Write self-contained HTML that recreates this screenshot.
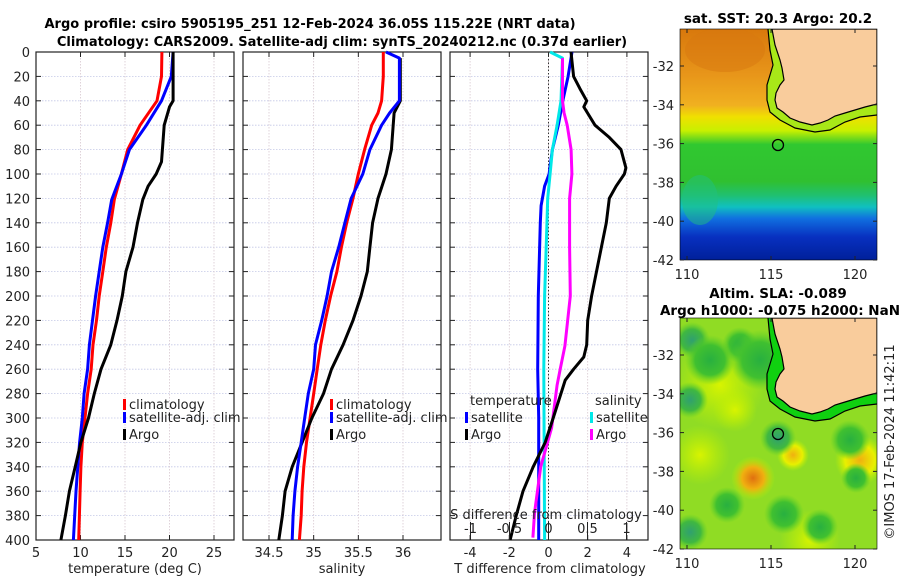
<!DOCTYPE html>
<html><head><meta charset="utf-8"><style>
body{margin:0;background:#fff;}
svg{display:block;font-family:"DejaVu Sans","Liberation Sans",sans-serif;}
</style></head><body>
<svg id="c" width="900" height="580" viewBox="0 0 900 580" xmlns="http://www.w3.org/2000/svg">
<defs>
<linearGradient id="sstg" x1="0" y1="0" x2="0" y2="1">
<stop offset="0" stop-color="#d8780c"/><stop offset="0.2" stop-color="#e8961a"/><stop offset="0.33" stop-color="#f0b020"/>
<stop offset="0.38" stop-color="#f0e000"/><stop offset="0.44" stop-color="#c8f000"/><stop offset="0.5" stop-color="#30c830"/>
<stop offset="0.66" stop-color="#30c030"/><stop offset="0.72" stop-color="#20c070"/><stop offset="0.77" stop-color="#10c0c0"/>
<stop offset="0.82" stop-color="#1070e0"/><stop offset="0.9" stop-color="#0830c0"/><stop offset="1" stop-color="#00209a"/>
</linearGradient>
<radialGradient id="bOr"><stop offset="0" stop-color="#e07010"/><stop offset="0.5" stop-color="#f0b010"/><stop offset="1" stop-color="#c0f000" stop-opacity="0"/></radialGradient>
<radialGradient id="bYe"><stop offset="0" stop-color="#f0b010"/><stop offset="0.6" stop-color="#e8f000"/><stop offset="1" stop-color="#c0f000" stop-opacity="0"/></radialGradient>
<radialGradient id="bLy"><stop offset="0" stop-color="#d8f400"/><stop offset="1" stop-color="#c0f000" stop-opacity="0"/></radialGradient>
<radialGradient id="bDg"><stop offset="0" stop-color="#28b040"/><stop offset="0.6" stop-color="#40c030"/><stop offset="1" stop-color="#60d028" stop-opacity="0"/></radialGradient>
<radialGradient id="bTe"><stop offset="0" stop-color="#30a070"/><stop offset="0.6" stop-color="#40b840"/><stop offset="1" stop-color="#60d028" stop-opacity="0"/></radialGradient>
<clipPath id="clipA"><rect x="680" y="29" width="197" height="231"/></clipPath>
<clipPath id="clipB"><rect x="680" y="318" width="197" height="231"/></clipPath>
</defs>
<g id="g"></g>
</svg>
<script>
// ---- temperature profiles (depth m, deg C)
const tClimDepth=[0,20,40,60,80,100,121,140,160,180,200,220,240,260,280,300,320,340,360,400];
const tClimVal=[19.15,19.1,18.6,16.7,15.3,14.6,13.8,13.4,12.9,12.5,12.1,11.8,11.4,11.2,10.8,10.5,10.2,10.05,9.95,9.8];
const tSatDepth=[0,20,40,60,80,100,121,140,160,180,200,240,260,280,300,320,340,360,400];
const tSatVal=[20.4,20.2,19.1,17.4,15.5,14.6,13.5,13.05,12.5,12.1,11.7,11.0,10.8,10.4,10.2,9.9,9.7,9.5,9.2];
const tArgoDepth=[0,40,45,60,90,100,110,121,140,160,180,200,220,240,260,280,300,320,340,360,380,400];
const tArgoVal=[20.4,20.4,20.0,19.4,19.1,18.5,17.6,17.0,16.4,15.9,15.1,14.7,14.1,13.4,12.3,11.55,10.9,10.05,9.4,8.75,8.3,7.8];
// ---- salinity profiles
const sClimDepth=[0,20,40,50,60,80,100,120,140,160,180,200,220,240,260,280,300,320,340,360,380,400];
const sClimVal=[35.78,35.78,35.76,35.72,35.65,35.57,35.5,35.44,35.37,35.31,35.26,35.19,35.13,35.08,35.04,35.0,34.96,34.92,34.89,34.87,34.86,34.84];
const sSatDepth=[0,5,40,50,60,80,100,120,140,160,180,200,220,240,260,280,300,320,340,360,380,400];
const sSatVal=[35.81,35.96,35.96,35.85,35.76,35.63,35.55,35.42,35.35,35.28,35.2,35.15,35.09,35.02,35.0,34.94,34.9,34.86,34.82,34.79,34.77,34.76];
const sArgoDepth=[5,40,50,60,80,100,120,140,160,180,200,220,240,260,280,300,320,340,360,380,400];
const sArgoVal=[35.97,35.97,35.9,35.89,35.87,35.81,35.72,35.66,35.63,35.6,35.53,35.44,35.33,35.2,35.11,34.98,34.87,34.76,34.68,34.65,34.61];
// ---- differences from climatology
const dTSatDepth=[0,20,40,60,80,100,110,126,140,200,260,300,400];
const dTSatVal=[1.2,1.0,0.73,0.5,0.2,0.03,-0.2,-0.38,-0.42,-0.52,-0.55,-0.5,-0.5];
const dTArgoDepth=[0,20,30,40,45,60,70,80,95,100,110,120,140,160,180,200,220,240,250,260,269,300,320,340,360,380,400];
const dTArgoVal=[1.15,1.28,1.6,1.95,1.8,2.37,3.1,3.7,3.95,3.87,3.45,3.1,2.95,2.7,2.45,2.2,2.0,1.95,1.8,1.28,0.85,0.24,-0.17,-0.78,-1.3,-1.65,-1.96];
const dSSatDepth=[0,5,40,60,80,100,120,160,200,260,400];
const dSSatVal=[0.02,0.18,0.16,0.11,0.05,0.02,-0.01,-0.03,-0.05,-0.06,-0.05];
const dSArgoDepth=[5,40,50,60,80,100,120,160,200,241,260,273,308,340,378,398];
const dSArgoVal=[0.18,0.18,0.2,0.24,0.29,0.3,0.27,0.27,0.28,0.21,0.15,0.11,0.04,-0.1,-0.18,-0.2];
// ---- ticks
const depthTicks=[0,20,40,60,80,100,120,140,160,180,200,220,240,260,280,300,320,340,360,380,400];
const tTicks=[5,10,15,20,25];
const sTicks=[34.5,35,35.5,36];
const dTTicks=[-4,-2,0,2,4];
const dSTicks=[-1,-0.5,0,0.5,1];
const latTicks=[-32,-34,-36,-38,-40,-42];
const lonTicks=[110,115,120];

const NS='http://www.w3.org/2000/svg';
const G=document.getElementById('g');
function el(tag,attrs,parent){const e=document.createElementNS(NS,tag);for(const k in attrs)e.setAttribute(k,attrs[k]);(parent||G).appendChild(e);return e;}
function txt(x,y,s,attrs,parent){const e=el('text',Object.assign({x:x,y:y,'font-size':13,fill:'#222'},attrs||{}),parent);e.textContent=s;return e;}

const Y0=52,Y1=540;
const yD=d=>Y0+d*(Y1-Y0)/400;
const xT=v=>36+(v-5)*(214-36)/20;
const xS=v=>269+(v-34.5)*(403-269)/1.5;
const xDT=v=>548.5+v*19.6;
const xDS=v=>548.5+v*78;

function panel(x0,x1,xs,ticks,labels,name){
  const gp=el('g',{});
  
  
  for(const d of depthTicks){
    const y=yD(d);
    el('line',{x1:x0,x2:x1,y1:y,y2:y,stroke:'#c4c8e6','stroke-width':0.8,'stroke-dasharray':'1.5,1.5'},gp);
    el('line',{x1:x0,x2:x0+5,y1:y,y2:y,stroke:'#222'},gp);
    el('line',{x1:x1-5,x2:x1,y1:y,y2:y,stroke:'#222'},gp);
  }
  for(const t of ticks){
    const x=xs(t);
    el('line',{x1:x,x2:x,y1:Y0,y2:Y1,stroke:'#d8c8d0','stroke-width':0.8,'stroke-dasharray':'1.5,1.5'},gp);
    el('line',{x1:x,x2:x,y1:Y1-5,y2:Y1,stroke:'#222'},gp);
    el('line',{x1:x,x2:x,y1:Y0,y2:Y0+5,stroke:'#222'},gp);
    if(labels){const l=txt(x,557,String(t),{'text-anchor':'middle'},gp);}
  }
  el('rect',{x:x0,y:Y0,width:x1-x0,height:Y1-Y0,fill:'none',stroke:'#222','stroke-width':1.2},gp);
  return gp;
}
function series(depth,vals,xs,color,name){
  const pts=depth.map((d,i)=>xs(vals[i]).toFixed(1)+','+yD(d).toFixed(1)).join(' ');
  const p=el('polyline',{points:pts,fill:'none',stroke:color,'stroke-width':3,'stroke-linejoin':'round'});
  
  
}
function legend(x,y,color,label,name){
  const r=el('rect',{x:x,y:y-10,width:3,height:11,fill:color});
  
  
  const t=txt(x+6,y,label);
  
  
}

// panel 1
panel(36,234,xT,tTicks,true,'temperature-panel');
for(const d of depthTicks){const l=txt(30,yD(d)+5,String(d),{'text-anchor':'end'});}
series(tClimDepth,tClimVal,xT,'#ff0000','temp-climatology-line');
series(tSatDepth,tSatVal,xT,'#0000ff','temp-satellite-line');
series(tArgoDepth,tArgoVal,xT,'#000000','temp-argo-line');
legend(123,409,'#ff0000','climatology','legend-climatology');
legend(123,422,'#0000ff','satellite-adj. clim','legend-satellite');
legend(123,439,'#000','Argo','legend-argo');
let a=txt(135,573,'temperature (deg C)',{'text-anchor':'middle'});

// panel 2
panel(243,441,xS,sTicks,true,'salinity-panel');
series(sClimDepth,sClimVal,xS,'#ff0000','sal-climatology-line');
series(sArgoDepth,sArgoVal,xS,'#000000','sal-argo-line');
series(sSatDepth,sSatVal,xS,'#0000ff','sal-satellite-line');
legend(330,409,'#ff0000','climatology','legend-climatology-2');
legend(330,422,'#0000ff','satellite-adj. clim','legend-satellite-2');
legend(330,439,'#000','Argo','legend-argo-2');
a=txt(342,573,'salinity',{'text-anchor':'middle'});

// panel 3
panel(450,648,xDT,dTTicks,true,'difference-panel');
const zl=el('line',{x1:xDT(0),x2:xDT(0),y1:Y0,y2:Y1,stroke:'#333','stroke-width':1,'stroke-dasharray':'1.5,2'});

series(dTSatDepth,dTSatVal,xDT,'#0000ff','dT-satellite-line');
series(dSSatDepth,dSSatVal,xDS,'#00e8e8','dS-satellite-line');
series(dSArgoDepth,dSArgoVal,xDS,'#ff00ff','dS-argo-line');
series(dTArgoDepth,dTArgoVal,xDT,'#000000','dT-argo-line');
a=txt(470,405,'temperature');
a=txt(595,405,'salinity');
legend(465,422,'#0000ff','satellite','legend-t-satellite');
legend(465,439,'#000','Argo','legend-t-argo');
legend(590,422,'#00e8e8','satellite','legend-s-satellite');
legend(590,439,'#ff00ff','Argo','legend-s-argo');
a=txt(546,519,'S difference from climatology',{'text-anchor':'middle'});
for(const t of dSTicks){
  const x=xDS(t);
  el('line',{x1:x,x2:x,y1:522,y2:540,stroke:'#222'});
  const l=txt(x,533,String(t),{'text-anchor':'middle'});
}
a=txt(550,573,'T difference from climatology',{'text-anchor':'middle'});

// titles
a=txt(310,28,'Argo profile: csiro 5905195_251 12-Feb-2024 36.05S 115.22E (NRT data)',{'text-anchor':'middle','font-weight':'bold','font-size':13,fill:'#000'});
a=txt(342,46,'Climatology: CARS2009. Satellite-adj clim: synTS_20240212.nc (0.37d earlier)',{'text-anchor':'middle','font-weight':'bold','font-size':13,fill:'#000'});

// maps
const lat2y=(lat,top)=>top+37+(-32-lat)*19.4;
const lon2x=lon=>687+(lon-110)*16.8;
const landPts=[[772,0],[775,16],[780,31],[782,39],[784,51],[780,56],[776,64],[775,71],[777,79],[783,83],[790,89],[800,93],[812,96],[820,94],[828,91],[835,87],[845,84],[855,81],[865,78],[877,75],[877,0]];
const shelfPts=[[768,0],[770,21],[773,36],[770,46],[767,56],[767,71],[770,83],[780,91],[795,99],[815,103],[830,101],[845,93],[860,88],[877,86]];
function mapFrame(top,clip,name,fillFn,shelfColor){
  const gm=el('g',{'clip-path':'url(#'+clip+')'});
  
  
  fillFn(gm);
  el('polygon',{points:shelfPts.map(p=>p[0]+','+(p[1]+top)).concat(['877,'+top]).join(' '),fill:shelfColor,stroke:'none'},gm);
  el('polygon',{points:landPts.map(p=>p[0]+','+(p[1]+top)).join(' '),fill:'#f9cc9c',stroke:'#000','stroke-width':1.2},gm);
  el('polyline',{points:shelfPts.map(p=>p[0]+','+(p[1]+top)).join(' '),fill:'none',stroke:'#000','stroke-width':1.2},gm);
  const c=el('circle',{cx:778,cy:top+116,r:5.5,fill:'none',stroke:'#000','stroke-width':1.3},gm);
  
  el('rect',{x:680,y:top,width:197,height:231,fill:'none',stroke:'#000','stroke-width':0.6});
  for(const lt of latTicks){
    const y=lat2y(lt,top);
    el('line',{x1:680,x2:684,y1:y,y2:y,stroke:'#222'});
    el('line',{x1:873,x2:877,y1:y,y2:y,stroke:'#222'});
    const l=txt(674,y+5,String(lt),{'text-anchor':'end'});
  }
  for(const ln of lonTicks){
    const x=lon2x(ln);
    el('line',{x1:x,x2:x,y1:top+227,y2:top+231,stroke:'#222'});
    el('line',{x1:x,x2:x,y1:top,y2:top+4,stroke:'#222'});
    const l=txt(x,top+250,String(ln),{'text-anchor':'middle'});
  }
}
mapFrame(29,'clipA','sst-map',g=>{
  el('rect',{x:680,y:29,width:197,height:231,fill:'url(#sstg)'},g);
  el('ellipse',{cx:725,cy:50,rx:40,ry:22,fill:'#d87810',opacity:0.5},g);
  el('ellipse',{cx:700,cy:200,rx:18,ry:25,fill:'#20c080',opacity:0.5},g);
},'#a8e818');
mapFrame(318,'clipB','sla-map',g=>{
  el('rect',{x:680,y:318,width:197,height:231,fill:'#90dc24'},g);
  const blobs=[[720,385,45,'bLy'],[700,455,30,'bLy'],[860,460,25,'bYe'],[753,478,22,'bOr'],[793,455,16,'bYe'],[735,410,22,'bLy'],[810,540,30,'bLy'],
    [692,340,18,'bTe'],[740,345,18,'bDg'],[690,400,18,'bTe'],[690,532,18,'bTe'],[727,505,18,'bDg'],[784,514,20,'bDg'],[820,527,18,'bDg'],
    [856,478,15,'bDg'],[850,440,20,'bDg'],[760,360,30,'bDg'],[778,438,18,'bTe'],[710,360,25,'bDg']];
  for(const b of blobs)el('circle',{cx:b[0],cy:b[1],r:b[2],fill:'url(#'+b[3]+')'},g);
},'#10d010');
a=txt(778,23,'sat. SST: 20.3 Argo: 20.2',{'text-anchor':'middle','font-weight':'bold','font-size':13.5,fill:'#000'});
a=txt(778,298,'Altim. SLA: -0.089',{'text-anchor':'middle','font-weight':'bold','font-size':13.5,fill:'#000'});
a=txt(780,315,'Argo h1000: -0.075 h2000: NaN',{'text-anchor':'middle','font-weight':'bold','font-size':13.5,fill:'#000'});
a=txt(0,0,'©IMOS 17-Feb-2024 11:42:11',{'text-anchor':'middle',transform:'translate(894,442) rotate(-90)'});
</script>
</body></html>
